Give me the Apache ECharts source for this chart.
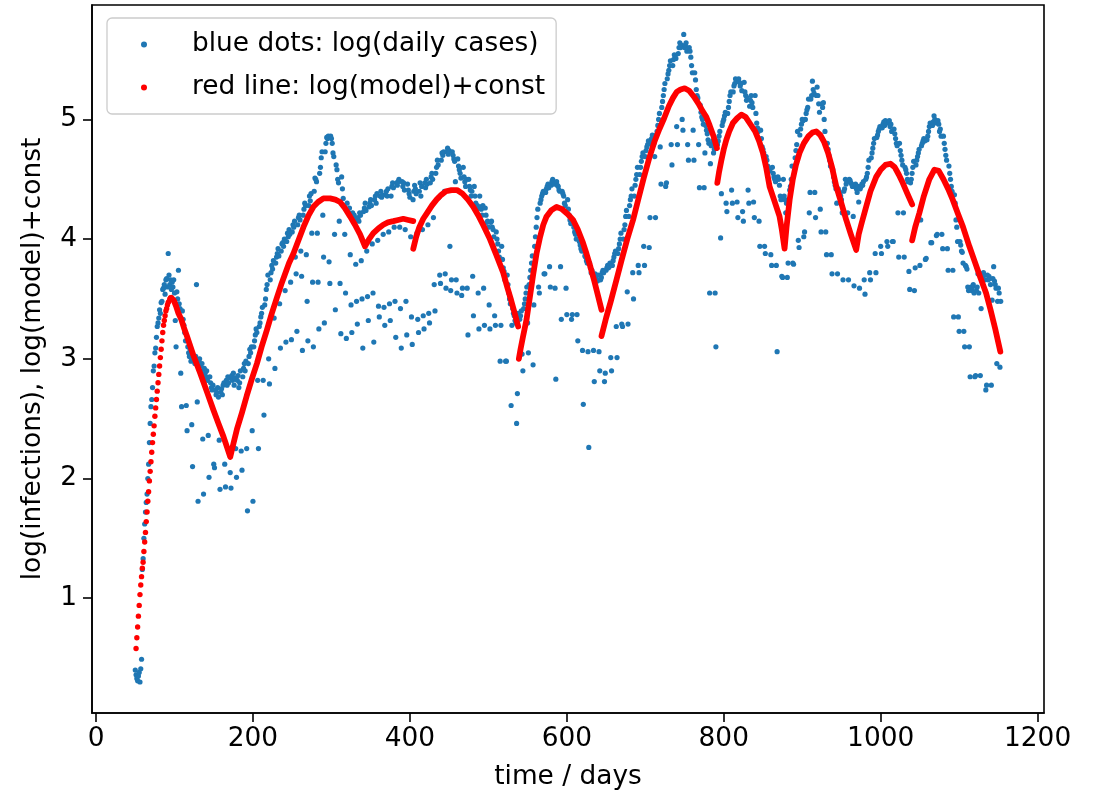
<!DOCTYPE html>
<html>
<head>
<meta charset="utf-8">
<script src="https://cdn.jsdelivr.net/npm/echarts@6/dist/echarts.min.js"></script>
<style>
html,body{margin:0;padding:0;background:#fff;}
#chart{width:1107px;height:799px;}
</style>
</head>
<body>
<div id="chart"></div>
<script>
// ---------- data ----------
const xTicks = [0, 200, 400, 600, 800, 1000, 1200];
const yTicks = [1, 2, 3, 4, 5];

// blue dots: log(daily cases), one value per day, chunked with their first day
const blueRiseStart = 50;
const blueRise = [0.4,0.36,0.33,0.31,0.35,0.38,0.3,0.41,0.49,
1.24,1.33,1.5,1.62,1.72,1.8,1.87,2.0,2.12,2.3,2.46,2.6,2.66,2.76,2.9,2.94,3.05,3.09,3.18,3.27,3.3,3.34,3.41,3.38,3.47,3.48,3.58,3.59,3.62,3.54,3.66,3.67,3.6,3.88,3.7,3.62,3.66];

const blueWave1Start = 96;
const blueWave1 = [
3.58,3.64,3.6,3.66,3.55,3.32,3.1,
3.56,3.5,3.74,3.46,3.42,2.88,2.6,
3.4,3.33,3.28,3.22,3.15,2.61,2.4,
3.1,3.05,3.02,3.08,2.98,2.45,2.1,
3.0,3.02,2.96,3.02,3.62,2.64,1.81,
2.98,3.0,2.94,2.9,2.96,2.33,1.87,
2.92,2.88,2.85,2.9,2.82,2.36,2.01,
2.85,2.8,2.76,2.74,2.78,2.12,2.09,
2.74,2.7,2.72,2.76,2.68,2.32,1.91,
2.72,2.75,2.7,2.78,2.8,2.12,1.93,
2.82,2.78,2.85,2.8,2.84,2.05,1.92,
2.86,2.82,2.88,2.78,2.84,2.25,2.01,
2.82,2.86,2.76,2.8,2.9,2.23,2.07,
2.85,2.92,2.96,2.9,2.98,2.25,1.73,
2.96,3.02,3.08,3.05,3.1,2.4,1.81,
3.1,3.15,3.2,3.25,3.22,2.82,2.25,
3.27,3.3,3.35,3.38,3.43,2.82,2.53,
3.45,3.5,3.58,3.62,3.7,3.0,2.79,
3.66,3.72,3.78,3.75,3.82,3.34,2.92,
3.8,3.85,3.88,3.92,3.86,3.46,3.09,
3.9,3.96,3.97,3.94,4.0,3.57,3.14,
3.98,4.05,4.02,4.08,4.04,3.64,3.16,
4.06,4.12,4.1,4.15,3.85,3.71,3.23,
4.12,4.18,4.2,4.16,3.9,3.69,3.07,
4.2,4.25,4.3,4.28,3.87,3.48,3.15,
4.28,4.36,4.32,4.38,4.05,3.64,3.1,
4.4,4.51,4.5,4.48,4.05,3.64,3.25,
4.55,4.6,4.68,4.73,4.2,3.85,3.3,
4.73,4.8,4.85,4.84,4.86,3.81,3.63,
4.86,4.84,4.8,4.72,4.69,4.04,3.41,
4.62,4.58,4.5,4.47,4.15,3.63,3.21,
4.52,4.42,4.34,4.28,4.04,3.55,3.17,
4.3,4.25,4.22,4.26,3.87,3.45,3.22,
4.22,4.18,4.2,4.16,3.79,3.48,3.29,
4.18,4.15,4.22,4.2,3.82,3.5,3.09,
4.23,4.26,4.3,4.24,3.9,3.52,3.32,
4.27,4.3,4.33,4.28,3.96,3.55,3.14,
4.33,4.36,4.3,4.38,3.99,3.44,3.35,
4.36,4.4,4.35,4.37,4.04,3.43,3.28,
4.37,4.4,4.36,4.42,4.06,3.46,3.32,
4.36,4.44,4.47,4.43,4.1,3.48,3.18,
4.47,4.45,4.48,4.5,4.1,3.42,3.09,
4.48,4.44,4.47,4.41,4.08,3.48,3.2,
4.46,4.41,4.38,4.35,4.02,3.35,3.12];

const blueWave2Start = 404;
const blueWave2 = [
4.33,4.4,4.45,4.42,4.38,4.05,3.33,3.22,
4.4,4.47,4.36,4.44,4.08,3.36,3.25,
4.47,4.43,4.5,4.46,4.12,3.38,3.3,
4.47,4.52,4.55,4.5,4.18,3.62,3.4,
4.55,4.6,4.66,4.62,4.35,3.7,3.63,
4.66,4.72,4.7,4.73,4.4,3.71,3.59,
4.73,4.76,4.71,4.74,3.94,3.57,3.66,
4.73,4.7,4.67,4.65,4.48,3.66,3.55,
4.67,4.61,4.58,4.55,4.51,3.53,3.59,
4.6,4.52,4.48,4.44,4.5,3.59,3.2,
4.5,4.44,4.41,4.36,4.4,3.69,3.36,
4.44,4.36,4.3,4.25,4.28,3.55,3.25,
4.36,4.27,4.25,4.2,4.28,3.59,3.28,
4.26,4.2,4.14,4.15,4.1,3.45,3.25,
4.14,4.15,4.1,4.08,4.02,3.36,3.28,
4.06,4.0,3.96,3.9,3.85,2.98,3.28,
3.94,3.83,3.76,3.73,3.66,2.98,2.98,
3.7,3.62,3.55,3.5,3.46,2.61,3.28,
3.42,3.38,3.36,3.32,3.3,2.46,2.71,
3.38,3.34,3.33,3.36,3.4,3.04,2.9,
3.42,3.46,3.5,3.55,3.6,3.3,3.05,
3.62,3.68,3.74,3.8,3.86,2.95,3.45,
3.94,4.02,4.1,4.18,4.25,3.6,3.55,
4.3,4.33,4.36,4.38,4.4,3.71,3.71,
4.39,4.42,4.44,4.46,4.43,3.77,3.6,
4.45,4.48,4.5,4.47,4.46,3.59,2.83,
4.48,4.45,4.44,4.41,4.4,3.77,3.33,
4.4,4.38,4.36,4.3,4.28,3.59,3.37,
4.33,4.25,4.2,4.16,4.13,3.33,3.37,
4.13,4.1,4.06,4.04,4.0,3.37,3.15,
4.04,3.98,3.95,3.92,3.9,3.07,2.62,
3.9,3.86,3.85,3.82,3.8,3.06,2.26,
3.8,3.76,3.72,3.74,3.7,3.07,2.81,
3.71,3.68,3.66,3.65,3.7,3.06,2.9,
3.66,3.68,3.72,3.74,3.72,2.81,2.88];

const blueWave3Start = 650;
const blueWave3 = [
3.74,3.76,3.78,3.76,3.77,3.8,3.01,2.9,
3.78,3.82,3.85,3.88,3.9,3.27,3.01,
3.88,3.92,3.96,4.0,4.05,3.29,3.27,
4.0,4.08,4.12,4.19,4.24,3.56,3.29,
4.19,4.28,4.33,4.36,4.42,3.72,3.5,
4.36,4.45,4.5,4.54,4.6,3.78,3.72,
4.54,4.6,4.65,4.69,4.72,3.94,3.78,
4.69,4.74,4.77,4.79,4.82,3.93,4.18,
4.8,4.84,4.87,4.85,4.8,4.69,4.18,
4.87,4.9,4.95,5.0,5.05,4.77,4.46,
5.1,5.15,5.2,5.25,5.3,4.44,4.47,
5.34,5.38,5.41,5.45,5.49,4.79,4.62,
5.45,5.5,5.54,5.52,5.51,4.94,4.79,
5.55,5.6,5.64,5.6,5.62,5.0,4.91,
5.71,5.6,5.62,5.64,5.57,4.79,4.66,
5.6,5.57,5.52,5.45,5.39,4.91,4.66,
5.39,5.33,5.25,5.2,5.18,4.79,4.43,
5.12,5.06,5.02,5.0,4.96,4.43,4.72,
4.95,4.91,4.88,4.83,4.8,3.55,4.63,
4.78,4.79,4.82,4.72,4.75,3.55,3.1,
4.8,4.79,4.82,4.86,4.9,4.01,4.38,
4.95,4.98,5.0,5.03,5.06,4.3,4.23,
5.05,5.1,5.15,5.2,5.23,4.41,4.3,
5.23,5.28,5.3,5.34,5.32,4.31,4.18,
5.34,5.31,5.28,5.3,5.24,4.23,4.15,
5.31,5.23,5.2,5.16,5.18,4.41,4.3,
5.11,5.16,5.2,5.14,5.1,4.31,4.18,
5.2,5.05,4.97,4.93,4.9,4.15,3.94,
4.91,4.84,4.77,4.75,4.72,3.94,3.88];

const blueWave4Start = 854;
const blueWave4 = [
4.69,4.66,4.61,4.6,4.57,4.58,3.87,3.78,
4.6,4.55,4.52,4.5,4.48,3.78,3.06,
4.52,4.5,4.45,4.36,4.33,3.69,3.68,
4.5,4.36,4.33,4.22,4.3,3.68,3.8,
4.33,4.41,4.44,4.5,4.61,3.8,3.79,
4.61,4.68,4.74,4.79,4.9,3.99,3.93,
4.87,4.92,4.96,5.0,4.99,4.02,4.06,
5.0,5.05,5.08,5.1,5.17,4.22,4.39,
5.17,5.2,5.32,5.25,5.22,4.39,4.18,
5.2,5.27,5.2,5.13,5.06,4.25,4.06,
5.13,5.1,5.14,5.0,4.9,4.06,3.87,
4.8,4.75,4.7,4.66,4.61,3.87,3.71,
4.58,4.52,4.48,4.45,4.42,4.3,3.71,
4.42,4.4,4.38,4.36,4.33,4.22,3.66,
4.4,4.42,4.5,4.46,4.48,4.22,3.66,
4.5,4.49,4.47,4.46,4.44,4.19,3.61,
4.44,4.46,4.42,4.39,4.44,4.31,3.59,
4.42,4.44,4.46,4.45,4.48,3.66,3.54,
4.5,4.52,4.55,4.6,4.66,3.72,3.66,
4.68,4.72,4.76,4.8,4.84,3.88,3.72,
4.85,4.87,4.9,4.92,4.94,3.94,3.88];

const blueWave5Start = 1002;
const blueWave5 = [
4.93,4.96,4.98,4.95,4.99,4.97,3.98,3.94,
4.97,4.99,4.94,4.96,4.9,3.98,3.98,
4.92,4.88,4.84,4.8,4.78,4.22,3.85,
4.8,4.74,4.7,4.66,4.62,4.22,3.85,
4.6,4.58,4.55,4.5,4.48,3.73,3.58,
4.47,4.5,4.55,4.6,4.65,3.57,3.76,
4.62,4.66,4.69,4.72,4.75,3.78,4.16,
4.78,4.8,4.82,4.84,4.82,3.83,3.84,
4.83,4.86,4.9,4.94,4.97,3.97,3.97,
4.95,4.98,5.03,5.0,4.97,4.03,4.04,
4.99,4.96,4.9,4.92,4.86,4.04,3.92,
4.86,4.8,4.75,4.7,4.66,3.92,3.74,
4.61,4.55,4.5,4.44,4.4,3.74,3.35,
4.37,4.3,4.16,4.1,3.98,3.35,3.23,
3.98,3.95,3.9,3.89,3.8,3.23,3.1,
3.78,3.77,3.75,3.6,3.57,3.1,2.85,
3.6,3.57,3.6,3.62,3.55,2.85,2.86,
3.57,3.6,3.71,3.55,3.7,2.86,3.42,
3.7,3.68,3.72,3.7,3.66,2.74,2.78,
3.7,3.66,3.69,3.67,3.62,2.78,3.49,
3.67,3.77,3.65,3.62,3.59,2.96,3.48,
3.59,3.55,2.93,3.48];

// red: log(model)+const — first steep part, one dot per day
const redRiseStart = 51;
const redRise = [0.58,0.67,0.76,0.85,0.94,1.03,1.11,1.18,1.25,1.3,1.39,1.47,1.55,1.64,1.72,1.81,1.89,1.98,2.06,2.14,2.22,2.3,2.37,2.44,2.52,2.59,2.66,2.73,2.8,2.87,2.94,3.01,3.08,3.15,3.22,3.28,3.32,3.36,3.4,3.42,3.45,3.47,3.48,3.5,3.51];

// red model curve afterwards (null = break between fitted waves)
const redDay = [
96,99,102,105,108.6,112,115.8,124,132.8,141,149.7,156,162.4,167,171,175,179.5,186,192,199,205,211,217.7,224,230.4,236,241,246,251.6,258,264.3,271,277,283,289.8,298.3,305,311,317,323.7,330,336.5,342.8,348,353.4,360,366.1,372,378.9,385,391.6,398,404.3,404.3,
404.3,408,412,417,422,428,434,440,446,453,460,467,474,480.7,487,494,502,510,518.9,524,529,534,538,538,
538.9,541,544,548.7,553,557,561.4,566,570,574.2,580,586.9,594,601,608,614,620,625,630,635,640,644.2,644.2,
644.2,650,656,663.3,670,677,684.4,691,698,705.6,712,718,724,730,735.3,740,745,750.2,756,762,768,773,777.8,782,787,791.3,791.3,
791.8,794,797,800,803.3,807,811.7,817,822.4,828,834,840,845,849.9,854,858.4,864,871.1,874,877.5,880,884,888,892,896.6,902,908,913,917.9,923,928,933,938,943.4,949,956.1,962,968.8,972,976,981.5,987,994.3,1000,1006,1012.5,1018,1023,1028.1,1034,1040.1,1040.1,
1040.1,1044,1049.4,1055,1062,1068.5,1074,1080,1086,1091.8,1098,1105,1113,1120,1127,1134.3,1140,1146,1152.5];
const redVal = [
3.51,3.49,3.44,3.38,3.33,3.26,3.19,3.03,2.88,2.73,2.57,2.46,2.35,2.26,2.18,2.29,2.41,2.55,2.69,2.84,2.96,3.1,3.24,3.38,3.51,3.62,3.71,3.8,3.88,3.99,4.1,4.2,4.27,4.31,4.34,4.34,4.33,4.31,4.26,4.19,4.12,4.04,3.94,4.0,4.05,4.09,4.12,4.14,4.15,4.16,4.17,4.16,4.15,null,
3.92,4.02,4.1,4.17,4.22,4.28,4.33,4.37,4.4,4.41,4.41,4.38,4.33,4.27,4.2,4.11,4.0,3.87,3.72,3.6,3.49,3.37,3.27,null,
3.0,3.08,3.18,3.33,3.52,3.7,3.88,4.02,4.12,4.19,4.24,4.27,4.25,4.21,4.16,4.08,3.98,3.88,3.77,3.65,3.52,3.41,null,
3.19,3.34,3.48,3.66,3.83,4.0,4.16,4.33,4.51,4.69,4.82,4.92,5.01,5.11,5.18,5.23,5.25,5.26,5.24,5.19,5.13,5.07,5.02,4.95,4.86,4.76,null,
4.47,4.56,4.66,4.75,4.83,4.9,4.97,5.01,5.04,5.02,4.96,4.9,4.82,4.72,4.6,4.44,4.33,4.19,4.08,3.92,4.1,4.33,4.5,4.62,4.72,4.8,4.86,4.89,4.9,4.87,4.81,4.72,4.6,4.44,4.32,4.16,4.04,3.91,4.04,4.14,4.27,4.4,4.52,4.58,4.62,4.63,4.6,4.54,4.47,4.38,4.29,null,
3.99,4.1,4.22,4.36,4.5,4.58,4.57,4.5,4.42,4.33,4.22,4.1,3.94,3.81,3.68,3.55,3.41,3.25,3.06];

// ---------- build series data ----------
function daily(start, arr) { return arr.map((v, i) => [start + i, v]); }
const blueData = [].concat(
  daily(blueRiseStart, blueRise),
  daily(blueWave1Start, blueWave1),
  daily(blueWave2Start, blueWave2),
  daily(blueWave3Start, blueWave3),
  daily(blueWave4Start, blueWave4),
  daily(blueWave5Start, blueWave5)
);
const redDotData = daily(redRiseStart, redRise);
const redLineData = redDay.map((d, i) => [d, redVal[i]]);

const FONT = 'DejaVu Sans';
const FS = 26.4;
const BLUE = '#1f77b4';
const RED = '#ff0000';

const chart = echarts.init(document.getElementById('chart'), null, {renderer: 'canvas'});
chart.setOption({
  animation: false,
  backgroundColor: '#ffffff',
  textStyle: {fontFamily: FONT, color: '#000'},
  grid: {left: 92, right: 63, top: 5, bottom: 86, show: true, borderColor: '#000', borderWidth: 1.6, containLabel: false},
  legend: {
    data: ['blue dots: log(daily cases)', 'red line: log(model)+const'],
    orient: 'vertical',
    left: 107, top: 18,
    icon: 'circle',
    itemWidth: 6, itemHeight: 6,
    itemGap: 16,
    padding: [13, 11, 13, 34],
    backgroundColor: 'rgba(255,255,255,0.8)',
    borderColor: '#cccccc', borderWidth: 1.3, borderRadius: 5,
    textStyle: {fontFamily: FONT, fontSize: FS, color: '#000', lineHeight: 27, padding: [0, 0, 0, 40]}
  },
  xAxis: {
    type: 'value', min: -5.15, max: 1208.15,
    name: 'time / days', nameLocation: 'middle', nameGap: 51,
    nameTextStyle: {fontFamily: FONT, fontSize: FS, color: '#000'},
    axisLine: {show: true, onZero: false, lineStyle: {color: '#000', width: 1.6}},
    axisTick: {show: true, length: 9, inside: false, lineStyle: {color: '#000', width: 1.6}, customValues: xTicks},
    axisLabel: {fontFamily: FONT, fontSize: FS, color: '#000', margin: 13, customValues: xTicks,
      formatter: v => String(v)},
    splitLine: {show: false}
  },
  yAxis: {
    type: 'value', min: 0.041, max: 5.956,
    name: 'log(infections), log(model)+const', nameLocation: 'middle', nameGap: 46,
    nameTextStyle: {fontFamily: FONT, fontSize: FS, color: '#000'},
    axisLine: {show: true, onZero: false, lineStyle: {color: '#000', width: 1.6}},
    axisTick: {show: true, length: 9, inside: false, lineStyle: {color: '#000', width: 1.6}, customValues: yTicks},
    axisLabel: {fontFamily: FONT, fontSize: FS, color: '#000', margin: 15, customValues: yTicks,
      formatter: v => String(v)},
    splitLine: {show: false}
  },
  series: [
    {name: 'blue dots: log(daily cases)', type: 'scatter', data: blueData, symbol: 'circle', symbolSize: 5.2,
     itemStyle: {color: BLUE, opacity: 1}, silent: true, z: 2},
    {name: 'red line: log(model)+const', type: 'scatter', data: redDotData, symbol: 'circle', symbolSize: 5.4,
     itemStyle: {color: RED, opacity: 1}, silent: true, z: 3},
    {name: 'model curve', type: 'line', data: redLineData, showSymbol: false, connectNulls: false,
     lineStyle: {color: RED, width: 5.8, cap: 'round', join: 'round'}, itemStyle: {color: RED}, silent: true, z: 3}
  ]
});
</script>
</body>
</html>
